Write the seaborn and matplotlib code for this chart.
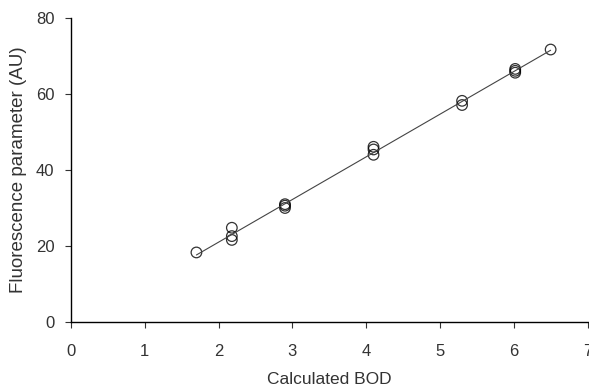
import numpy as np
import pandas as pd
import seaborn as sns
import matplotlib.pyplot as plt

# values
bod = [1.7, 2.18, 2.18, 2.18, 2.9, 2.9, 2.9, 4.1, 4.1, 4.1, 5.3, 5.3, 6.02, 6.02, 6.02, 6.5]
fluor = [18.3, 21.6, 22.6, 24.8, 30.0, 30.6, 31.0, 44.0, 45.4, 46.1, 57.1, 58.2, 65.6, 66.1, 66.6, 71.7]

df = pd.DataFrame({'Calculated BOD': bod, 'Fluorescence parameter (AU)': fluor})

sns.set_style('ticks')
plt.rcParams['font.family'] = ['Liberation Sans', 'DejaVu Sans']

fig = plt.figure(figsize=(5.89, 3.92), dpi=100)
ax = fig.add_axes([0.1205, 0.1786, 0.877, 0.7755])

sns.regplot(x='Calculated BOD', y='Fluorescence parameter (AU)', data=df, ax=ax,
            ci=None, truncate=True,
            scatter_kws={'s': 58, 'facecolors': 'none', 'edgecolors': 'black', 'linewidths': 0.9},
            line_kws={'color': '#444444', 'lw': 0.8})

ax.set_xlim(0, 7)
ax.set_ylim(0, 80)
ax.set_xticks(range(0, 8))
ax.set_yticks(range(0, 81, 20))
ax.tick_params(labelsize=12, colors='#333333', length=4, width=0.8)
ax.tick_params(axis='x', pad=12)
ax.tick_params(axis='y', pad=8)
ax.set_xlabel('Calculated BOD', fontsize=12.5, color='#333333', labelpad=9)
ax.set_ylabel('Fluorescence parameter (AU)', fontsize=13.5, color='#333333', labelpad=6)
sns.despine(ax=ax)
for s in ['left', 'bottom']:
    ax.spines[s].set_color('black')
    ax.spines[s].set_linewidth(1.0)

fig.savefig('out.png', dpi=100)
